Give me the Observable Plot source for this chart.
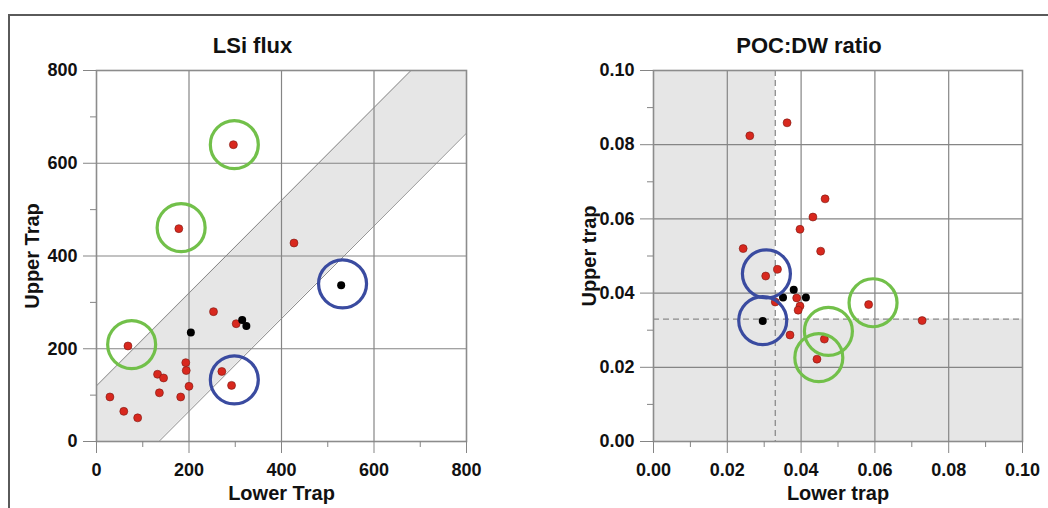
<!DOCTYPE html>
<html>
<head>
<meta charset="utf-8">
<script src="https://cdn.jsdelivr.net/npm/d3@7"></script>
<script src="https://cdn.jsdelivr.net/npm/@observablehq/plot@0.6"></script>
<style>
  html, body { margin: 0; padding: 0; background: #fff; overflow: hidden; }
  #wrap { position: relative; width: 1048px; height: 508px; overflow: hidden; }
  #wrap svg { position: absolute; top: 0; }
  #outer { position: absolute; left: 8px; top: 14px; width: 1200px; height: 700px;
           border-left: 2px solid #5a5a5a; border-top: 2px solid #5a5a5a; pointer-events: none; }
</style>
</head>
<body>
<div id="wrap"><div id="outer"></div></div>
<script>
// ---------- LSi flux panel ----------
const lsiTicks = [0, 200, 400, 600, 800];
const lsiMinor = [100, 300, 500, 700];
const lsiRedLower = [296, 178, 427, 253, 302, 68, 193, 194, 271, 132, 145, 200, 292, 136, 182, 29, 59, 89];
const lsiRedUpper = [640, 459, 428, 280, 254, 206, 170, 153, 151, 145, 137, 119, 121, 105, 96, 96, 65, 51];
const lsiBlackLower = [204, 315, 324, 529];
const lsiBlackUpper = [235, 262, 249, 337];
const lsiGreenLower = [298, 183, 76];
const lsiGreenUpper = [640, 461, 209];
const lsiBlueLower = [532, 298];
const lsiBlueUpper = [340, 133];
// band edges (lower trap value, upper-trap bounds)
const bandLower = [0, 800];
const bandMin = [-135, 665];
const bandMax = [120, 920];

// ---------- POC:DW ratio panel ----------
const pocTicks = [0, 0.02, 0.04, 0.06, 0.08, 0.10];
const pocMinor = [0.01, 0.03, 0.05, 0.07, 0.09];
const pocThreshold = 0.033;
const pocRedLower = [0.0362, 0.0261, 0.0465, 0.0432, 0.0397, 0.0243, 0.0453, 0.0336, 0.0304, 0.0388, 0.0397, 0.0392, 0.0330, 0.0583, 0.0728, 0.0370, 0.0463, 0.0443];
const pocRedUpper = [0.0859, 0.0824, 0.0654, 0.0605, 0.0572, 0.0520, 0.0513, 0.0464, 0.0446, 0.0387, 0.0365, 0.0354, 0.0376, 0.0369, 0.0326, 0.0287, 0.0276, 0.0222];
const pocBlackLower = [0.0380, 0.0351, 0.0413, 0.0296];
const pocBlackUpper = [0.0409, 0.0388, 0.0388, 0.0325];
const pocGreenLower = [0.0595, 0.0474, 0.0448];
const pocGreenUpper = [0.0374, 0.0297, 0.0226];
const pocBlueLower = [0.0306, 0.0296];
const pocBlueUpper = [0.0452, 0.0326];

const zip = (xs, ys) => xs.map((x, i) => ({x, y: ys[i]}));

const RED = "#d8281e", REDSTROKE = "#7a1a12", GREEN = "#72c04a", BLUE = "#3a4ba0";
const GRID = "#858585";

function panel(o) {
  const marks = [
    ...o.background,
    Plot.gridX(o.ticks.slice(1, -1), {stroke: GRID, strokeOpacity: 1, strokeWidth: 1.2}),
    Plot.gridY(o.ticks.slice(1, -1), {stroke: GRID, strokeOpacity: 1, strokeWidth: 1.2}),
    ...o.overlay,
    Plot.frame({stroke: "#8c8c8c", strokeWidth: 1.6}),
    Plot.axisX(o.ticks, {tickSize: 12, tickPadding: 10, tickFormat: o.fmt, stroke: GRID, label: null}),
    Plot.axisX(o.minor, {tickSize: 6, tickFormat: () => "", stroke: GRID, label: null}),
    Plot.axisY(o.ticks, {tickSize: 13, tickPadding: 6, tickFormat: o.fmt, stroke: GRID, label: null}),
    Plot.axisY(o.minor, {tickSize: 6, tickFormat: () => "", stroke: GRID, label: null}),
    Plot.dot(zip(o.redX, o.redY), {x: "x", y: "y", r: 4, fill: RED, stroke: REDSTROKE, strokeWidth: 0.6}),
    Plot.dot(zip(o.blackX, o.blackY), {x: "x", y: "y", r: 4, fill: "#000"}),
    Plot.dot(zip(o.greenX, o.greenY), {x: "x", y: "y", r: 24, fill: "none", stroke: GREEN, strokeWidth: 3.2}),
    Plot.dot(zip(o.blueX, o.blueY), {x: "x", y: "y", r: 24, fill: "none", stroke: BLUE, strokeWidth: 3.2}),
    Plot.text([o.title], {text: d => d, frameAnchor: "top", lineAnchor: "middle", textAnchor: "middle", dx: -29, dy: -25, fontSize: 22, fontWeight: "bold", fill: "#111"}),
    Plot.text([o.xLabel], {text: d => d, frameAnchor: "bottom", lineAnchor: "middle", textAnchor: "middle", dy: 52, fontSize: 20, fontWeight: "bold", fill: "#111"}),
    Plot.text([o.yLabel], {text: d => d, frameAnchor: "left", lineAnchor: "middle", textAnchor: "middle", dx: -64, rotate: -90, fontSize: 20, fontWeight: "bold", fill: "#111"})
  ];
  return Plot.plot({
    width: 524, height: 508,
    marginLeft: o.marginLeft, marginRight: o.marginRight, marginTop: 70, marginBottom: 67,
    x: {domain: o.domain},
    y: {domain: o.domain},
    style: {fontFamily: "'Liberation Sans', Arial, sans-serif", fontWeight: "bold", fontSize: "18px", color: "#111", background: "transparent"},
    marks
  });
}

const bandIdx = d3.range(bandLower.length);
const left = panel({
  domain: [0, 800], ticks: lsiTicks, minor: lsiMinor, fmt: d3.format("d"),
  marginLeft: 96, marginRight: 58,
  title: "LSi flux", xLabel: "Lower Trap", yLabel: "Upper Trap",
  background: [
    Plot.areaY(bandIdx, {x: i => bandLower[i], y1: i => bandMin[i], y2: i => bandMax[i], fill: "#e6e6e6", clip: true})
  ],
  overlay: [
    Plot.line(bandIdx, {x: i => bandLower[i], y: i => bandMin[i], stroke: "#8a8a8a", strokeWidth: 1, clip: true}),
    Plot.line(bandIdx, {x: i => bandLower[i], y: i => bandMax[i], stroke: "#8a8a8a", strokeWidth: 1, clip: true})
  ],
  redX: lsiRedLower, redY: lsiRedUpper, blackX: lsiBlackLower, blackY: lsiBlackUpper,
  greenX: lsiGreenLower, greenY: lsiGreenUpper, blueX: lsiBlueLower, blueY: lsiBlueUpper
});
left.style.left = "0px";

const shade = [
  {x1: 0, x2: pocThreshold, y1: 0, y2: 0.10},
  {x1: pocThreshold, x2: 0.10, y1: 0, y2: pocThreshold}
];
const right = panel({
  domain: [0, 0.10], ticks: pocTicks, minor: pocMinor, fmt: d3.format(".2f"),
  marginLeft: 129, marginRight: 26,
  title: "POC:DW ratio", xLabel: "Lower trap", yLabel: "Upper trap",
  background: [
    Plot.rect(shade, {x1: "x1", x2: "x2", y1: "y1", y2: "y2", fill: "#e6e6e6"})
  ],
  overlay: [
    Plot.ruleX([pocThreshold], {stroke: "#8a8a8a", strokeWidth: 1.3, strokeDasharray: "6,4"}),
    Plot.ruleY([pocThreshold], {stroke: "#8a8a8a", strokeWidth: 1.3, strokeDasharray: "6,4"})
  ],
  redX: pocRedLower, redY: pocRedUpper, blackX: pocBlackLower, blackY: pocBlackUpper,
  greenX: pocGreenLower, greenY: pocGreenUpper, blueX: pocBlueLower, blueY: pocBlueUpper
});
right.style.left = "524px";

const wrap = document.getElementById("wrap");
wrap.insertBefore(right, wrap.firstChild);
wrap.insertBefore(left, wrap.firstChild);
</script>
</body>
</html>
